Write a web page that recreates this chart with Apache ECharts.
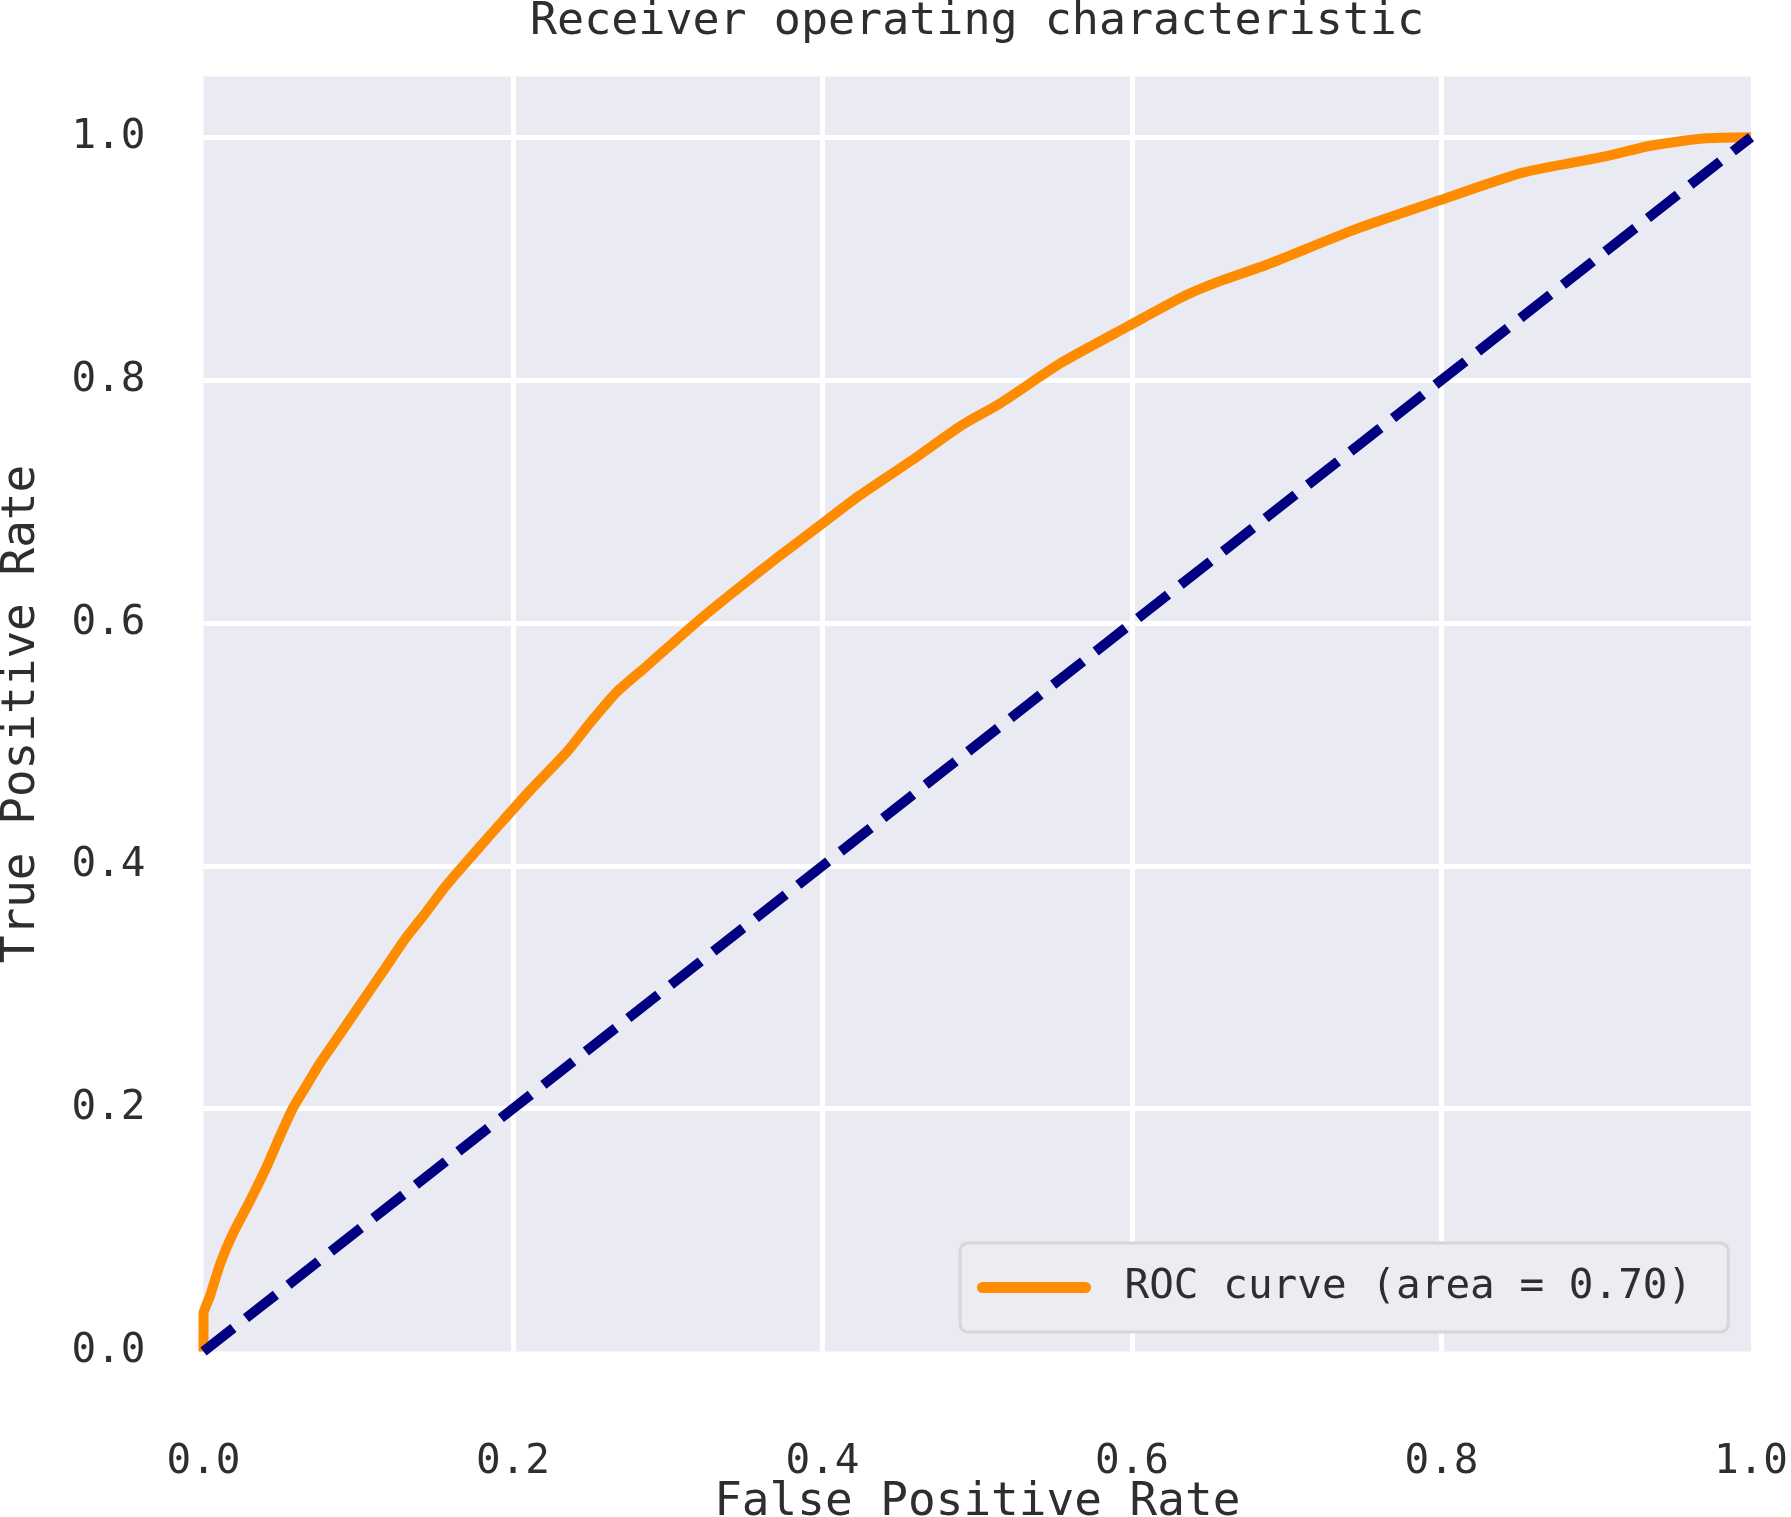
<!DOCTYPE html>
<html>
<head>
<meta charset="utf-8">
<script src="https://cdn.jsdelivr.net/npm/echarts@6/dist/echarts.min.js"></script>
<style>
  html, body { margin: 0; padding: 0; background: #fff; }
  #main { width: 1791px; height: 1517px; }
</style>
</head>
<body>
<div id="main"></div>
<script>
// ROC curve
const fpr = [0, 0, 0.004, 0.011, 0.019, 0.030, 0.040, 0.050, 0.058, 0.067, 0.075, 0.088, 0.103, 0.116,
    0.131, 0.144, 0.157, 0.174, 0.192, 0.211, 0.235, 0.250, 0.267, 0.286, 0.319, 0.342, 0.370, 0.398,
    0.424, 0.459, 0.489, 0.515, 0.554, 0.597, 0.635, 0.659, 0.687, 0.743, 0.801, 0.853, 0.905, 0.935,
    0.969, 1.0];
const tpr = [0, 0.031, 0.045, 0.073, 0.097, 0.124, 0.150, 0.179, 0.201, 0.220, 0.237, 0.261, 0.289, 0.313,
    0.341, 0.362, 0.384, 0.409, 0.435, 0.462, 0.494, 0.518, 0.543, 0.564, 0.601, 0.625, 0.653, 0.680,
    0.705, 0.735, 0.762, 0.781, 0.814, 0.844, 0.870, 0.8825, 0.895, 0.9235, 0.949, 0.971, 0.984, 0.993,
    0.999, 1.0];
// chance line
const chanceX = [0, 1];
const chanceY = [0, 1];
const xTicks = [0, 0.2, 0.4, 0.6, 0.8, 1.0];
const yTicks = [0, 0.2, 0.4, 0.6, 0.8, 1.0];
const rocName = 'ROC curve (area = 0.70)';

const FONT = '"DejaVu Sans Mono", "Liberation Mono", monospace';
const TXT = '#2e2e2e';

function zip(a, b) {
    let out = [];
    for (let i = 0; i < a.length; i++) out.push([a[i], b[i]]);
    return out;
}

const option = {
    animation: false,
    backgroundColor: '#ffffff',
    title: {
        text: 'Receiver operating characteristic',
        left: 977,
        top: 0,
        padding: 0,
        textAlign: 'center',
        textStyle: { fontFamily: FONT, fontSize: 45, fontWeight: 'normal', color: TXT }
    },
    grid: {
        left: 203.5, right: 40, top: 76.5, bottom: 165.5,
        outerBoundsMode: 'none',
        containLabel: false,
        show: true, backgroundColor: '#EAEAF2', borderWidth: 0
    },
    legend: {
        data: [rocName],
        left: 960,
        top: 1243,
        orient: 'vertical',
        padding: [19, 36, 19, 17],
        itemWidth: 103,
        itemHeight: 11,
        backgroundColor: '#ECECF3',
        borderColor: '#D6D6D6',
        borderWidth: 3,
        borderRadius: 8,
        lineStyle: { width: 11, cap: 'round' },
        textStyle: {
            fontFamily: FONT, fontSize: 41, color: TXT,
            lineHeight: 51, padding: [0, 0, 0, 34]
        }
    },
    xAxis: {
        type: 'value',
        min: 0, max: 1, interval: 0.2,
        name: 'False Positive Rate',
        nameLocation: 'middle',
        nameGap: 129,
        nameMoveOverlap: false,
        nameTextStyle: { fontFamily: FONT, fontSize: 46, color: TXT },
        axisLine: { show: false },
        axisTick: { show: false },
        axisLabel: {
            margin: 90, fontFamily: FONT, fontSize: 41, color: TXT,
            formatter: v => xTicks.indexOf(v) >= 0 ? v.toFixed(1) : ''
        },
        splitLine: {
            show: true, showMinLine: false, showMaxLine: false,
            lineStyle: { color: '#ffffff', width: 5 }
        }
    },
    yAxis: {
        type: 'value',
        min: 0, max: 1.05, interval: 0.2,
        name: 'True Positive Rate',
        nameLocation: 'middle',
        nameGap: 158,
        nameMoveOverlap: false,
        nameTextStyle: { fontFamily: FONT, fontSize: 46, color: TXT },
        axisLine: { show: false },
        axisTick: { show: false },
        axisLabel: {
            margin: 58, fontFamily: FONT, fontSize: 41, color: TXT,
            formatter: v => yTicks.indexOf(Math.round(v * 10) / 10) >= 0 && v <= 1.0001 ? v.toFixed(1) : ''
        },
        splitLine: {
            show: true, showMinLine: false, showMaxLine: false,
            lineStyle: { color: '#ffffff', width: 5 }
        }
    },
    series: [
        {
            name: rocName,
            type: 'line',
            data: zip(fpr, tpr),
            showSymbol: false,
            symbol: 'none',
            smooth: 0.2,
            itemStyle: { color: '#FF8C00' },
            lineStyle: { color: '#FF8C00', width: 10 }
        },
        {
            name: 'chance',
            type: 'line',
            data: zip(chanceX, chanceY),
            showSymbol: false,
            symbol: 'none',
            itemStyle: { color: '#000080' },
            lineStyle: { color: '#000080', width: 10, type: [38, 16] }
        }
    ]
};

let myChart = echarts.init(document.getElementById('main'));
myChart.setOption(option);
</script>
</body>
</html>
